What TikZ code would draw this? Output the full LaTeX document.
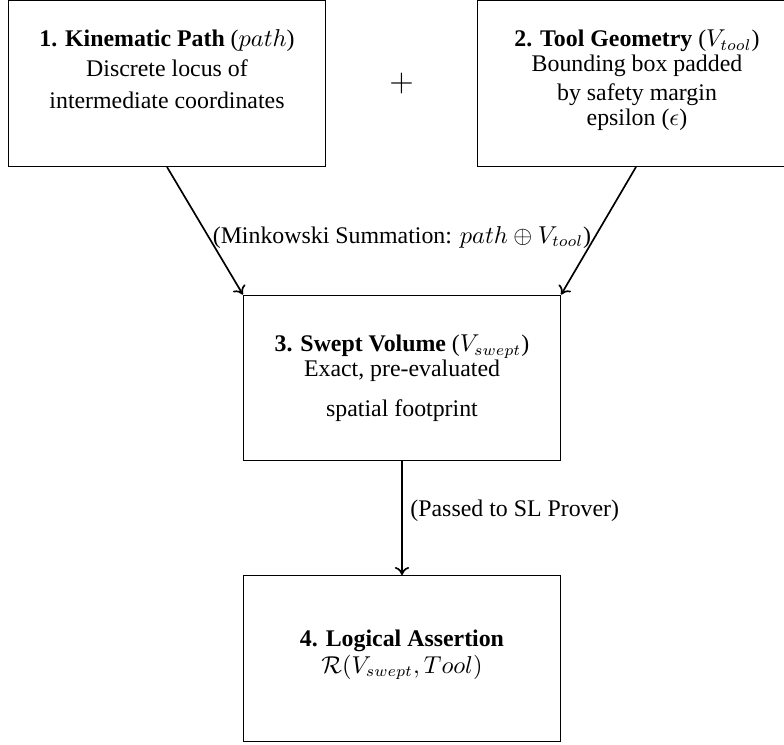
\documentclass[tikz,border=0pt]{standalone}
\usepackage{fontspec}
\setmainfont{Liberation Serif}
\usetikzlibrary{arrows.meta}
\begin{document}
\begin{tikzpicture}[x=0.4487pt,y=-0.4487pt,
  box/.style={draw,line width=0.6pt,rectangle,minimum width=142.2pt,minimum height=74.3pt,inner sep=0pt},
  txt/.style={anchor=base,inner sep=0pt,font=\fontsize{10.7}{12.8}\selectfont},
  conn/.style={-{To[length=3.6pt,width=6.4pt]},line width=0.75pt}]
\useasboundingbox (0,0) rectangle (784,744);
% boxes
\node[box] (b1) at (167,83.5) {};
\node[box] (b2) at (636,83.5) {};
\node[box] (b3) at (402,378) {};
\node[box] (b4) at (402,658.5) {};
% box 1 text
\node[txt] (t1a) at (167,46.7) {\textbf{1. Kinematic Path} ($path$)};
\node[txt] (t1b) at (167,76) {Discrete locus of};
\node[txt] (t1c) at (167,108.3) {intermediate coordinates};
% box 2 text
\node[txt] (t2a) at (637,46.7) {\textbf{2. Tool Geometry} ($V_{tool}$)};
\node[txt] (t2b) at (637,71.7) {Bounding box padded};
\node[txt] (t2c) at (637,100) {by safety margin};
\node[txt] (t2d) at (637,125) {epsilon ($\epsilon$)};
% box 3 text
\node[txt] (t3a) at (402,351.7) {\textbf{3. Swept Volume} ($V_{swept}$)};
\node[txt] (t3b) at (402,376.7) {Exact, pre-evaluated};
\node[txt] (t3c) at (402,416.7) {spatial footprint};
% box 4 text
\node[txt] (t4a) at (402,646.7) {\textbf{4. Logical Assertion}};
\node[txt] (t4b) at (402,673.3) {$\mathcal{R}(V_{swept},Tool)$};
% plus sign
\node[inner sep=0pt,font=\fontsize{10.7}{12.8}\selectfont] (plus) at (401.7,83.3) {\Large $+$};
% connectors
\draw[conn] (b1.south) -- (b3.north west);
\draw[conn] (b2.south) -- (b3.north east);
\draw[conn] (b3.south) -- (b4.north);
% labels
\node[txt] (lm) at (402,243) {(Minkowski Summation: $path \oplus V_{tool}$)};
\node[txt,anchor=base west] (lp) at (410,516) {(Passed to SL Prover)};
\end{tikzpicture}
\end{document}
